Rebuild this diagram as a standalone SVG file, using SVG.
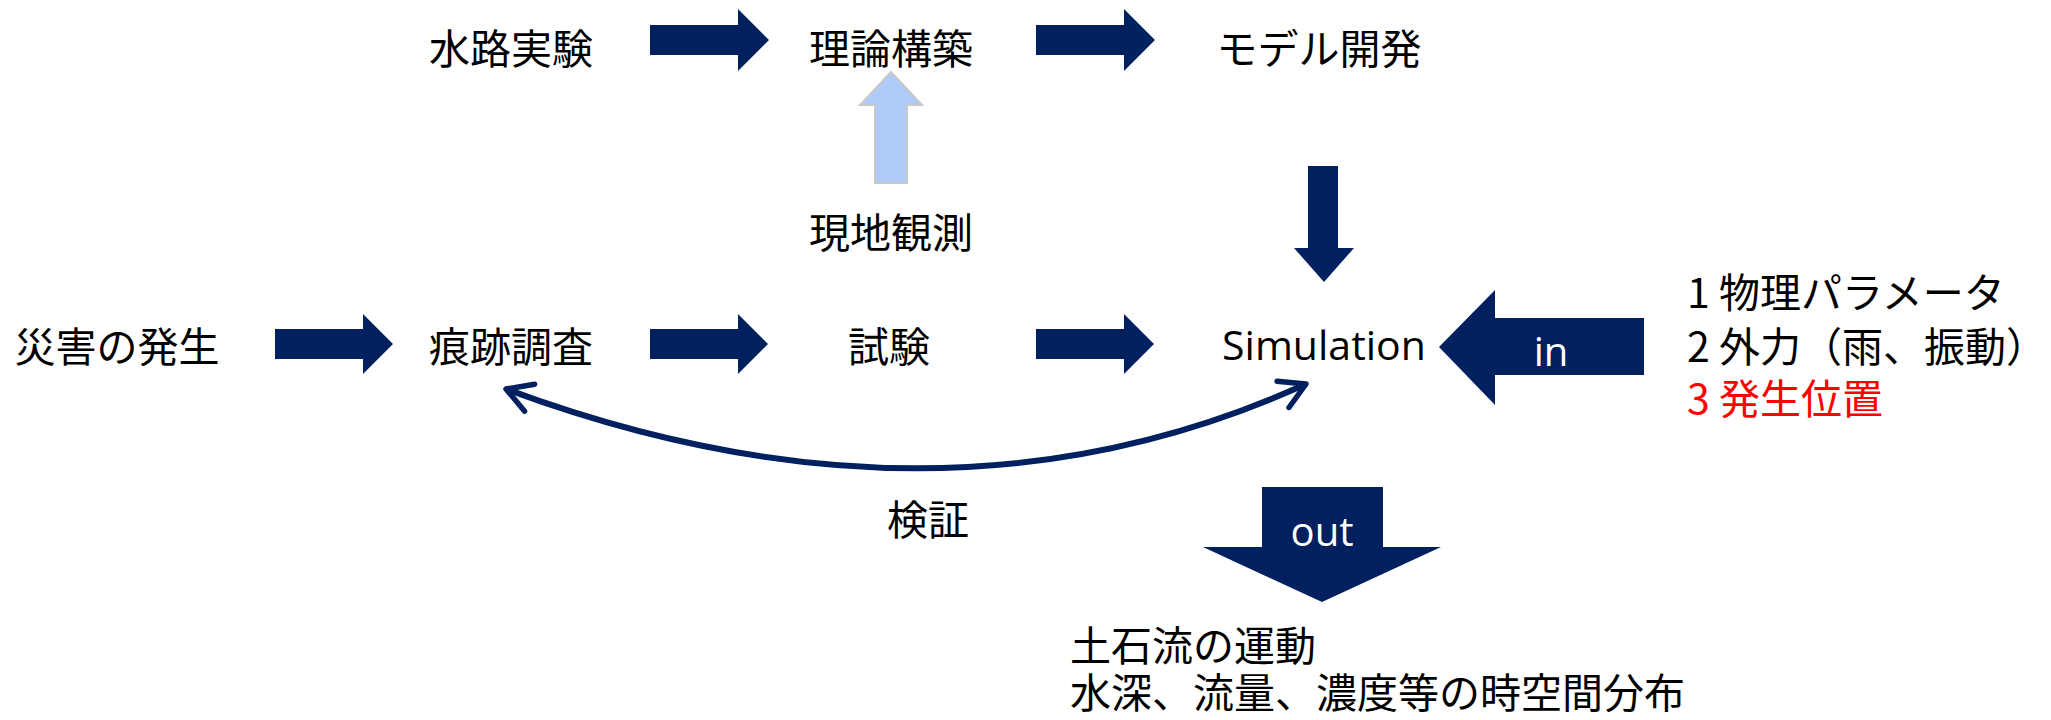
<svg xmlns="http://www.w3.org/2000/svg" width="2051" height="720" viewBox="0 0 2051 720">
<defs>
<style>
.t{font-family:"Noto Sans CJK JP","Noto Sans",sans-serif;font-size:41px;fill:#000;dominant-baseline:central}
.c{text-anchor:middle}
.w{font-family:"Open Sans","Noto Sans",sans-serif;font-size:40px;fill:#fff;text-anchor:middle;dominant-baseline:central}
.dk{fill:#002060}
.lb{fill:#afcbfa;stroke:#c8c8c8;stroke-width:2}
</style>
<marker id="oa" viewBox="0 0 20 20" refX="17" refY="10" markerWidth="6" markerHeight="6" orient="auto-start-reverse" markerUnits="strokeWidth">
<path d="M3,2 L17,10 L3,18" fill="none" stroke="#002060" stroke-width="3" stroke-linecap="round" stroke-linejoin="round"/>
</marker>
</defs>
<rect width="2051" height="720" fill="#fff"/>

<g id="connectors">
<path class="dk" d="M650,25 H738 V9 L769,40 L738,71 V55 H650 Z"/>
<path class="dk" d="M1036,25 H1124 V9 L1155,40 L1124,71 V55 H1036 Z"/>
<path class="dk" d="M275,329 H363 V314 L393,344 L363,374 V359 H275 Z"/>
<path class="dk" d="M650,329 H738 V314 L768,344 L738,374 V359 H650 Z"/>
<path class="dk" d="M1036,329 H1124 V314 L1154,344 L1124,374 V359 H1036 Z"/>
<path class="lb" d="M875,183 V105 H860 L891,72 L922,105 H907 V183 Z"/>
<path class="dk" d="M1308,166 H1338 V248 H1354 L1324,282 L1294,248 H1308 Z"/>
<path class="dk" d="M1644,318 V375 H1495 V405 L1439,347 L1495,290 V318 Z"/>
<path class="dk" d="M1262,487 H1383 V547 H1441 L1322,602 L1203,547 H1262 Z"/>
<path d="M506,389 Q940,550 1306,384" fill="none" stroke="#002060" stroke-width="6" marker-start="url(#oa)" marker-end="url(#oa)"/>
<text class="w" x="1551" y="350">in</text>
<text class="w" x="1322" y="530">out</text>
</g>

<g id="n-suiro"><text class="t c" x="511" y="46">水路実験</text></g>
<g id="n-riron"><text class="t c" x="891" y="46">理論構築</text></g>
<g id="n-model"><text class="t c" x="1319" y="46">モデル開発</text></g>
<g id="n-genchi"><text class="t c" x="891" y="230">現地観測</text></g>
<g id="n-saigai"><text class="t c" x="117" y="344">災害の発生</text></g>
<g id="n-konseki"><text class="t c" x="511" y="344">痕跡調査</text></g>
<g id="n-shiken"><text class="t c" x="889" y="344">試験</text></g>
<g id="n-sim"><text class="t c" x="1324" y="344" style="font-family:'Open Sans','Noto Sans',sans-serif">Simulation</text></g>
<g id="n-kensho"><text class="t c" x="928" y="517">検証</text></g>
<g id="n-input">
<text class="t" x="1687" y="290">1 物理パラメータ</text>
<text class="t" x="1687" y="344">2 外力（雨、振動）</text>
<text class="t" x="1687" y="396" style="fill:#ff0000">3 発生位置</text>
</g>
<g id="n-output">
<text class="t" x="1070" y="643">土石流の運動</text>
<text class="t" x="1070" y="690">水深、流量、濃度等の時空間分布</text>
</g>
</svg>
